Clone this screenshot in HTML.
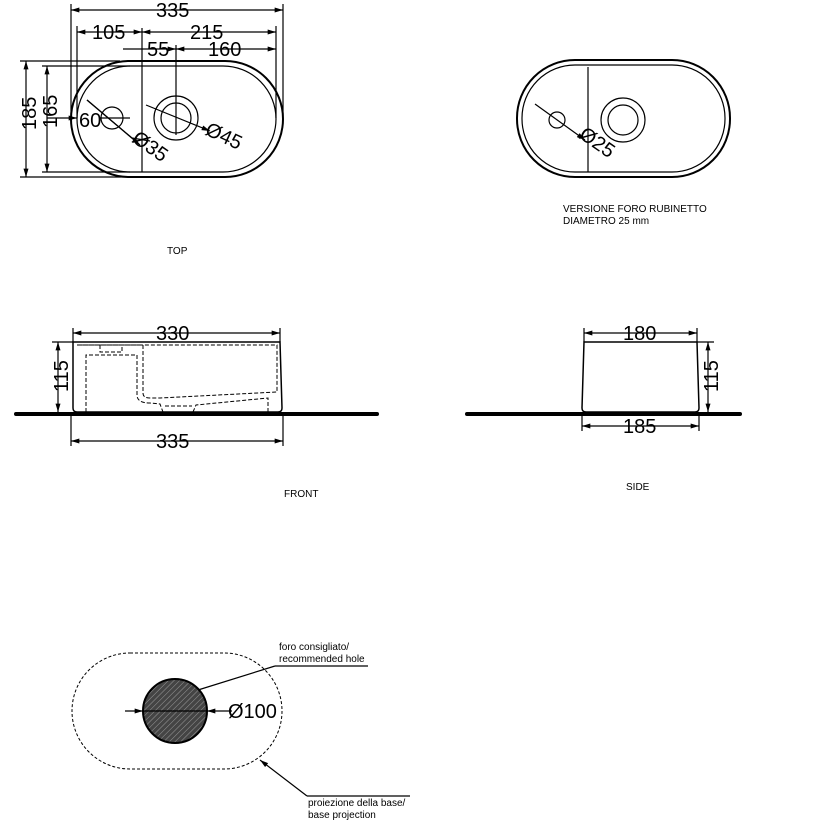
<!DOCTYPE html>
<html><head><meta charset="utf-8"><style>
html,body{margin:0;padding:0;background:#fff;}
svg{display:block;font-family:"Liberation Sans",Arial,sans-serif;}
</style></head><body>
<svg width="832" height="827" viewBox="0 0 832 827" xmlns="http://www.w3.org/2000/svg">
<defs>
<marker id="a" viewBox="0 0 10 6" refX="10" refY="3" markerWidth="9" markerHeight="5" orient="auto-start-reverse" markerUnits="userSpaceOnUse"><path d="M0,0 L10,3 L0,6 z" fill="#000"/></marker>
<pattern id="h" width="4" height="4" patternUnits="userSpaceOnUse" patternTransform="rotate(45)"><rect width="4" height="4" fill="#444"/><line x1="0" y1="0" x2="0" y2="4" stroke="#999" stroke-width="1"/></pattern>
</defs>
<g fill="none" stroke="#000" stroke-width="1.2">
<!-- TOP VIEW -->
<rect x="71" y="61" width="212" height="116" rx="58" stroke-width="2"/>
<rect x="77" y="66" width="199" height="106" rx="53"/>
<line x1="71" y1="4" x2="71" y2="118"/><line x1="283" y1="4" x2="283" y2="118"/>
<line x1="71" y1="10" x2="283" y2="10" marker-start="url(#a)" marker-end="url(#a)"/>
<line x1="77" y1="26" x2="77" y2="118"/><line x1="276" y1="26" x2="276" y2="118"/>
<line x1="77" y1="32" x2="142" y2="32" marker-start="url(#a)" marker-end="url(#a)"/>
<line x1="142" y1="32" x2="276" y2="32" marker-start="url(#a)" marker-end="url(#a)"/>
<line x1="142" y1="28" x2="142" y2="172"/>
<line x1="123" y1="49" x2="176" y2="49" marker-end="url(#a)"/>
<line x1="176" y1="49" x2="276" y2="49" marker-start="url(#a)" marker-end="url(#a)"/>
<line x1="176" y1="45" x2="176" y2="135"/>
<line x1="20" y1="61" x2="120" y2="61"/><line x1="20" y1="177" x2="142" y2="177"/>
<line x1="26" y1="61" x2="26" y2="177" marker-start="url(#a)" marker-end="url(#a)"/>
<line x1="42" y1="66" x2="130" y2="66"/><line x1="42" y1="172" x2="130" y2="172"/>
<line x1="47" y1="66" x2="47" y2="172" marker-start="url(#a)" marker-end="url(#a)"/>
<line x1="47" y1="118" x2="77" y2="118" marker-end="url(#a)"/>
<line x1="100" y1="118" x2="130" y2="118"/>
<circle cx="112" cy="118" r="11"/>
<line x1="87" y1="100" x2="132" y2="138"/>
<line x1="132" y1="138" x2="150" y2="141" />
<line x1="87" y1="100" x2="140" y2="145" marker-end="url(#a)"/>
<circle cx="176" cy="118" r="22"/><circle cx="176" cy="118" r="15"/>
<line x1="146" y1="105" x2="210" y2="131" marker-end="url(#a)"/>
<!-- RIGHT TOP -->
<rect x="517" y="60" width="213" height="117" rx="58" stroke-width="2"/>
<rect x="522" y="65" width="203" height="107" rx="53"/>
<line x1="588" y1="67" x2="588" y2="172"/>
<circle cx="557" cy="120" r="8"/>
<line x1="535" y1="104" x2="585" y2="140" marker-end="url(#a)"/>
<circle cx="623" cy="120" r="22"/><circle cx="623" cy="120" r="15"/>
<!-- FRONT -->
<path d="M73,342 L280,342 L282,408 Q282,412 278,412 L77,412 Q73,412 73,408 Z" stroke-width="1.5"/>
<line x1="16" y1="414" x2="377" y2="414" stroke-width="4" stroke-linecap="round"/>
<line x1="73" y1="328" x2="73" y2="342"/><line x1="280" y1="328" x2="280" y2="342"/>
<line x1="73" y1="333" x2="280" y2="333" marker-start="url(#a)" marker-end="url(#a)"/>
<line x1="71" y1="414" x2="71" y2="446"/><line x1="283" y1="414" x2="283" y2="446"/>
<line x1="71" y1="441" x2="283" y2="441" marker-start="url(#a)" marker-end="url(#a)"/>
<line x1="52" y1="342" x2="73" y2="342"/>
<line x1="58" y1="342" x2="58" y2="412" marker-start="url(#a)" marker-end="url(#a)"/>
<g stroke-dasharray="4,2" stroke-width="1">
<path d="M77,345 L143,345 L143,393 Q143,398 150,398 L160,398 L277,392 L277,345 L77,345"/>
<path d="M86,412 L86,355 L137,355 L137,395 Q137,403 150,403 L160,404 L163,412"/>
<path d="M193,412 L196,405 L268,398 L268,412"/>
<path d="M100,345 L100,352 L122,352 L122,345"/>
<path d="M165,406 L192,406"/>
</g>
<!-- SIDE -->
<path d="M584,342 L697,342 L699,408 Q699,412 695,412 L586,412 Q582,412 582,408 Z" stroke-width="1.5"/>
<line x1="467" y1="414" x2="740" y2="414" stroke-width="4" stroke-linecap="round"/>
<line x1="584" y1="328" x2="584" y2="342"/><line x1="697" y1="328" x2="697" y2="342"/>
<line x1="584" y1="333" x2="697" y2="333" marker-start="url(#a)" marker-end="url(#a)"/>
<line x1="582" y1="414" x2="582" y2="431"/><line x1="699" y1="414" x2="699" y2="431"/>
<line x1="582" y1="426" x2="699" y2="426" marker-start="url(#a)" marker-end="url(#a)"/>
<line x1="697" y1="342" x2="714" y2="342"/>
<line x1="708" y1="342" x2="708" y2="412" marker-start="url(#a)" marker-end="url(#a)"/>
<!-- BOTTOM -->
<rect x="72" y="653" width="210" height="116" rx="58" stroke-dasharray="3,2" stroke-width="1"/>
<circle cx="175" cy="711" r="32" fill="url(#h)" stroke-width="2"/>
<line x1="125" y1="711" x2="143" y2="711" marker-end="url(#a)"/>
<line x1="143" y1="711" x2="207" y2="711"/>
<line x1="232" y1="711" x2="207" y2="711" marker-end="url(#a)"/>
<line x1="198" y1="690" x2="275" y2="666"/><line x1="275" y1="666" x2="368" y2="666"/>
<line x1="307" y1="796" x2="260" y2="760" marker-end="url(#a)"/><line x1="307" y1="796" x2="410" y2="796"/>
</g>
<g font-size="20" fill="#000">
<text x="156" y="17">335</text>
<text x="92" y="39">105</text>
<text x="190" y="39">215</text>
<text x="147" y="56">55</text>
<text x="208" y="56">160</text>
<text transform="translate(36,130) rotate(-90)">185</text>
<text transform="translate(57,128) rotate(-90)">165</text>
<text x="79" y="127">60</text>
<text transform="translate(131,141) rotate(35)">Ø35</text>
<text transform="translate(204,134) rotate(25)">Ø45</text>
<text transform="translate(578,137) rotate(35)">Ø25</text>
<text x="156" y="340">330</text>
<text x="156" y="448">335</text>
<text transform="translate(68,392) rotate(-90)">115</text>
<text x="623" y="340">180</text>
<text x="623" y="433">185</text>
<text transform="translate(718,392) rotate(-90)">115</text>
<text x="228" y="718">Ø100</text>
</g>
<g font-size="10" fill="#000">
<text x="563" y="212">VERSIONE FORO RUBINETTO</text>
<text x="563" y="224">DIAMETRO 25 mm</text>
<text x="167" y="254">TOP</text>
<text x="284" y="497">FRONT</text>
<text x="626" y="490">SIDE</text>
<text x="279" y="650">foro consigliato/</text>
<text x="279" y="662">recommended hole</text>
<text x="308" y="806">proiezione della base/</text>
<text x="308" y="818">base projection</text>
</g>
</svg>
</body></html>
